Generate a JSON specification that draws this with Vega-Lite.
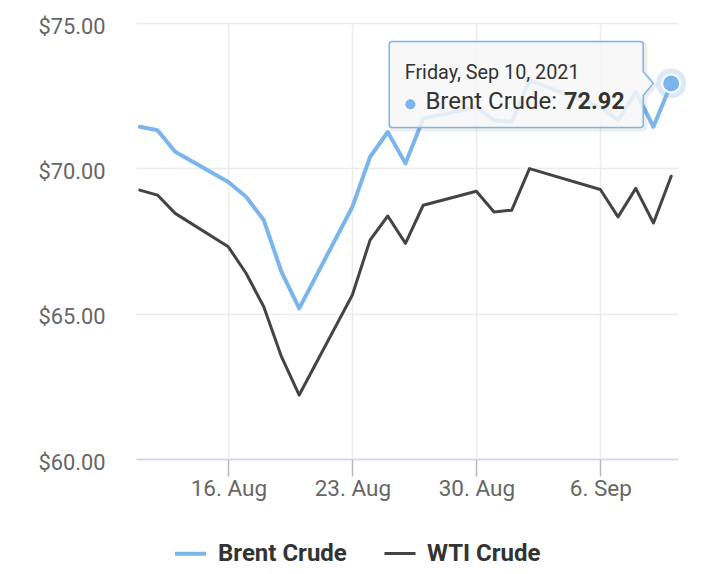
{
  "$schema": "https://vega.github.io/schema/vega-lite/v6.json",
  "width": 542,
  "height": 436,
  "autosize": {"type": "none"},
  "padding": {"left": 136, "top": 23, "right": 46, "bottom": 115},
  "background": "#ffffff",
  "config": {
    "font": "Roboto",
    "view": {"stroke": null}
  },
  "data": {
    "values": [
      {"date": "2021-08-11", "series": "Brent Crude", "price": 71.43},
      {"date": "2021-08-12", "series": "Brent Crude", "price": 71.31},
      {"date": "2021-08-13", "series": "Brent Crude", "price": 70.57},
      {"date": "2021-08-16", "series": "Brent Crude", "price": 69.53},
      {"date": "2021-08-17", "series": "Brent Crude", "price": 69.02},
      {"date": "2021-08-18", "series": "Brent Crude", "price": 68.22},
      {"date": "2021-08-19", "series": "Brent Crude", "price": 66.44},
      {"date": "2021-08-20", "series": "Brent Crude", "price": 65.18},
      {"date": "2021-08-23", "series": "Brent Crude", "price": 68.67},
      {"date": "2021-08-24", "series": "Brent Crude", "price": 70.39},
      {"date": "2021-08-25", "series": "Brent Crude", "price": 71.25},
      {"date": "2021-08-26", "series": "Brent Crude", "price": 70.17},
      {"date": "2021-08-27", "series": "Brent Crude", "price": 71.71},
      {"date": "2021-08-30", "series": "Brent Crude", "price": 72.11},
      {"date": "2021-08-31", "series": "Brent Crude", "price": 71.66},
      {"date": "2021-09-01", "series": "Brent Crude", "price": 71.6},
      {"date": "2021-09-02", "series": "Brent Crude", "price": 73.03},
      {"date": "2021-09-06", "series": "Brent Crude", "price": 72.11},
      {"date": "2021-09-07", "series": "Brent Crude", "price": 71.66},
      {"date": "2021-09-08", "series": "Brent Crude", "price": 72.63},
      {"date": "2021-09-09", "series": "Brent Crude", "price": 71.43},
      {"date": "2021-09-10", "series": "Brent Crude", "price": 72.92},
      {"date": "2021-08-11", "series": "WTI Crude", "price": 69.25},
      {"date": "2021-08-12", "series": "WTI Crude", "price": 69.08},
      {"date": "2021-08-13", "series": "WTI Crude", "price": 68.45},
      {"date": "2021-08-16", "series": "WTI Crude", "price": 67.3},
      {"date": "2021-08-17", "series": "WTI Crude", "price": 66.39},
      {"date": "2021-08-18", "series": "WTI Crude", "price": 65.24},
      {"date": "2021-08-19", "series": "WTI Crude", "price": 63.52},
      {"date": "2021-08-20", "series": "WTI Crude", "price": 62.2},
      {"date": "2021-08-23", "series": "WTI Crude", "price": 65.64},
      {"date": "2021-08-24", "series": "WTI Crude", "price": 67.53},
      {"date": "2021-08-25", "series": "WTI Crude", "price": 68.36},
      {"date": "2021-08-26", "series": "WTI Crude", "price": 67.42},
      {"date": "2021-08-27", "series": "WTI Crude", "price": 68.73},
      {"date": "2021-08-30", "series": "WTI Crude", "price": 69.21},
      {"date": "2021-08-31", "series": "WTI Crude", "price": 68.5},
      {"date": "2021-09-01", "series": "WTI Crude", "price": 68.56},
      {"date": "2021-09-02", "series": "WTI Crude", "price": 69.99},
      {"date": "2021-09-06", "series": "WTI Crude", "price": 69.27},
      {"date": "2021-09-07", "series": "WTI Crude", "price": 68.33},
      {"date": "2021-09-08", "series": "WTI Crude", "price": 69.31},
      {"date": "2021-09-09", "series": "WTI Crude", "price": 68.12},
      {"date": "2021-09-10", "series": "WTI Crude", "price": 69.73}
    ]
  },
  "encoding": {
    "x": {
      "field": "date",
      "type": "temporal",
      "title": null,
      "scale": {
        "type": "utc",
        "domain": [
          {"year": 2021, "month": 8, "date": 10, "hours": 18, "minutes": 54, "utc": true},
          {"year": 2021, "month": 9, "date": 10, "hours": 9, "minutes": 13, "utc": true}
        ],
        "nice": false
      },
      "axis": {
        "values": [
          {"year": 2021, "month": 8, "date": 16, "utc": true},
          {"year": 2021, "month": 8, "date": 23, "utc": true},
          {"year": 2021, "month": 8, "date": 30, "utc": true},
          {"year": 2021, "month": 9, "date": 6, "utc": true}
        ],
        "format": "%-d. %b",
        "grid": true,
        "gridColor": "#ececec",
        "gridWidth": 1.5,
        "domainColor": "#ccd6eb",
        "domainWidth": 1.5,
        "ticks": true,
        "tickColor": "#b8b8b8",
        "tickWidth": 1.5,
        "tickSize": 17,
        "labelFontSize": 22.5,
        "labelColor": "#666666",
        "labelBaseline": "alphabetic",
        "labelPadding": 19,
        "labelFlush": false,
        "labelOverlap": false
      }
    },
    "y": {
      "field": "price",
      "type": "quantitative",
      "title": null,
      "scale": {"domain": [60, 75], "nice": false, "zero": false},
      "axis": {
        "values": [60, 65, 70, 75],
        "format": "$.2f",
        "grid": true,
        "gridColor": "#ececec",
        "gridWidth": 1.5,
        "domain": false,
        "ticks": false,
        "labelFontSize": 21.8,
        "labelColor": "#666666",
        "labelPadding": 31,
        "labelOffset": 3
      }
    }
  },
  "layer": [
    {
      "mark": {"type": "line", "interpolate": "linear", "strokeJoin": "round", "strokeCap": "round"},
      "encoding": {
        "color": {
          "field": "series",
          "type": "nominal",
          "scale": {"domain": ["Brent Crude", "WTI Crude"], "range": ["#7cb5ec", "#434348"]},
          "legend": {
            "title": null,
            "orient": "none",
            "direction": "horizontal",
            "legendX": 37,
            "legendY": 513,
            "padding": 0,
            "symbolType": "stroke",
            "symbolSize": 961,
            "symbolStrokeWidth": 4,
            "labelFontSize": 24,
            "labelFontWeight": "bold",
            "labelColor": "#333333",
            "labelOffset": 10,
            "columnPadding": 31,
            "labelLimit": 300
          }
        },
        "strokeWidth": {
          "field": "series",
          "type": "nominal",
          "scale": {"domain": ["Brent Crude", "WTI Crude"], "range": [4, 3]},
          "legend": null
        }
      }
    },
    {
      "transform": [{"filter": "datum.series === 'Brent Crude' && datum.price === 72.92"}],
      "mark": {"type": "point", "filled": true, "fill": "#7cb5ec", "opacity": 0.28, "size": 900, "strokeWidth": 0}
    },
    {
      "transform": [{"filter": "datum.series === 'Brent Crude' && datum.price === 72.92"}],
      "mark": {"type": "point", "filled": true, "fill": "#7cb5ec", "stroke": "#ffffff", "strokeWidth": 2, "opacity": 1, "size": 324}
    },
    {
      "transform": [{"filter": "datum.series === 'Brent Crude' && datum.price === 72.92"}],
      "mark": {
        "type": "point",
        "filled": false,
        "fill": null,
        "stroke": "#000000",
        "strokeOpacity": 0.07,
        "strokeWidth": 4,
        "opacity": 1,
        "size": 4,
        "shape": "M -277 -40 L -29 -40 Q -26 -40 -26 -37 L -26 -10 L -16 2 L -26 14 L -26 43 Q -26 46 -29 46 L -277 46 Q -280 46 -280 43 L -280 -37 Q -280 -40 -277 -40 Z"
      }
    },
    {
      "transform": [{"filter": "datum.series === 'Brent Crude' && datum.price === 72.92"}],
      "mark": {
        "type": "point",
        "filled": true,
        "fill": "#f7f7f7",
        "fillOpacity": 0.85,
        "stroke": "#7cb5ec",
        "strokeWidth": 1.5,
        "opacity": 1,
        "size": 4,
        "shape": "M -279 -42 L -31 -42 Q -28 -42 -28 -39 L -28 -12 L -18 0 L -28 12 L -28 41 Q -28 44 -31 44 L -279 44 Q -282 44 -282 41 L -282 -39 Q -282 -42 -279 -42 Z"
      }
    },
    {
      "transform": [{"filter": "datum.series === 'Brent Crude' && datum.price === 72.92"}],
      "mark": {
        "type": "point",
        "filled": true,
        "fill": "#7cb5ec",
        "strokeWidth": 0,
        "opacity": 1,
        "size": 4,
        "shape": "M -265.8 20.7 A 5 5 0 1 0 -255.8 20.7 A 5 5 0 1 0 -265.8 20.7 Z"
      }
    },
    {
      "transform": [{"filter": "datum.series === 'Brent Crude' && datum.price === 72.92"}],
      "mark": {"type": "text", "align": "left", "baseline": "alphabetic", "dx": -266.5, "dy": -4, "fontSize": 19.8, "color": "#333333"},
      "encoding": {"text": {"field": "date", "type": "temporal", "format": "%A, %b %-d, %Y"}}
    },
    {
      "transform": [{"filter": "datum.series === 'Brent Crude' && datum.price === 72.92"}],
      "mark": {"type": "text", "align": "left", "baseline": "alphabetic", "dx": -245.8, "dy": 25.7, "fontSize": 24, "color": "#333333", "text": "Brent Crude:"}
    },
    {
      "transform": [{"filter": "datum.series === 'Brent Crude' && datum.price === 72.92"}],
      "mark": {"type": "text", "align": "left", "baseline": "alphabetic", "dx": -107.2, "dy": 25.7, "fontSize": 23.5, "fontWeight": "bold", "color": "#333333"},
      "encoding": {"text": {"field": "price", "type": "quantitative", "format": ".2f"}}
    }
  ]
}
